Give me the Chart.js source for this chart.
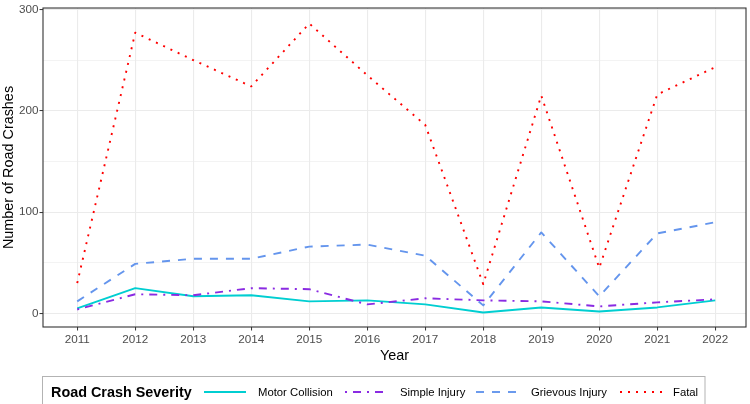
<!DOCTYPE html>
<html>
<head>
<meta charset="utf-8">
<script src="https://cdn.jsdelivr.net/npm/chart.js@4.4.1/dist/chart.umd.min.js"></script>
<style>
  html, body { margin: 0; padding: 0; background: #ffffff; }
  #c { display: block; }
</style>
</head>
<body>
<canvas id="c" width="750" height="404" style="width:750px;height:404px"></canvas>
<script>
// ---- data ----
const years = [2011, 2012, 2013, 2014, 2015, 2016, 2017, 2018, 2019, 2020, 2021, 2022];
const motorCollision = [5, 25, 17, 18, 12, 13, 9, 1, 6, 2, 6, 13];
const simpleInjury   = [4, 19, 18, 25, 24, 9, 15, 13, 12, 7, 11, 14];
const grievousInjury = [12, 49, 54, 54, 66, 68, 57, 8, 80, 17, 79, 90];
const fatal          = [30, 277, 250, 224, 286, 235, 186, 29, 215, 45, 216, 243];
const yTicks = [0, 50, 100, 150, 200, 250, 300];
const seriesLabels = ['Motor Collision', 'Simple Injury', 'Grievous Injury', 'Fatal'];
const legendTitle = 'Road Crash Severity';
const xTitle = 'Year';
const yTitle = 'Number of Road Crashes';

// ---- styles / layout ----
const FONT = '"Liberation Sans", Arial, Helvetica, sans-serif';
const colors = ['#00CED1', '#8A2BE2', '#6495ED', '#FF0000'];
const dashes = [[], [2, 6, 8, 6], [8, 8], [2, 6]];
const LW = 1.9;
const legendKeyX = [204, 345, 476, 620];
const legendTextX = [258, 400, 531, 673];

const seriesValues = [motorCollision, simpleInjury, grievousInjury, fatal];

const datasets = seriesValues.map((vals, i) => ({
  label: seriesLabels[i],
  data: years.map((yr, j) => ({ x: yr, y: vals[j] })),
  borderColor: colors[i],
  backgroundColor: colors[i],
  borderWidth: LW,
  borderDash: dashes[i],
  borderCapStyle: 'butt',
  borderJoinStyle: 'round',
  pointRadius: 0,
  pointHoverRadius: 0,
  tension: 0,
  fill: false,
  order: seriesValues.length - i
}));

const borderPlugin = {
  id: 'panelBorder',
  afterDatasetsDraw(chart) {
    const a = chart.chartArea;
    const ctx = chart.ctx;
    ctx.save();
    ctx.strokeStyle = '#333333';
    ctx.lineWidth = 1.1;
    ctx.strokeRect(a.left, a.top, a.right - a.left, a.bottom - a.top);
    ctx.restore();
  }
};

const legendPlugin = {
  id: 'ggLegend',
  afterDraw(chart) {
    const ctx = chart.ctx;
    ctx.save();
    ctx.strokeStyle = '#B3B3B3';
    ctx.lineWidth = 1;
    ctx.strokeRect(42.5, 376.5, 662.5, 40);
    ctx.fillStyle = '#000000';
    ctx.textBaseline = 'middle';
    ctx.textAlign = 'left';
    ctx.font = 'bold 14.4px ' + FONT;
    ctx.fillText(legendTitle, 51, 393);
    ctx.font = '11.3px ' + FONT;
    seriesLabels.forEach((lab, i) => {
      const x = legendKeyX[i];
      ctx.beginPath();
      ctx.setLineDash(dashes[i]);
      ctx.lineCap = 'butt';
      ctx.strokeStyle = colors[i];
      ctx.lineWidth = LW;
      ctx.moveTo(x, 392);
      ctx.lineTo(x + 42, 392);
      ctx.stroke();
      ctx.setLineDash([]);
      ctx.fillStyle = '#000000';
      ctx.fillText(lab, legendTextX[i], 393);
    });
    ctx.restore();
  }
};

new Chart(document.getElementById('c'), {
  type: 'line',
  data: { datasets },
  options: {
    responsive: false,
    animation: false,
    devicePixelRatio: 1,
    events: [],
    layout: { padding: { left: 0, right: 4, top: 2, bottom: 39 } },
    plugins: { legend: { display: false }, tooltip: { enabled: false } },
    scales: {
      x: {
        type: 'linear',
        min: 2010.41,
        max: 2022.53,
        afterBuildTicks(scale) { scale.ticks = years.map(v => ({ value: v })); },
        afterFit(scale) { scale.height = 38; },
        ticks: {
          callback: v => String(v),
          color: '#4D4D4D',
          font: { family: FONT, size: 11.7 },
          padding: 2.5,
          maxRotation: 0,
          autoSkip: false
        },
        grid: {
          color: '#EBEBEB',
          lineWidth: 1.1,
          tickColor: '#333333',
          tickLength: 3.5,
          tickWidth: 1
        },
        border: { display: false },
        title: {
          display: true,
          text: xTitle,
          color: '#000000',
          font: { family: FONT, size: 14.4 },
          padding: 0
        }
      },
      y: {
        type: 'linear',
        min: -13.3,
        max: 301.3,
        afterBuildTicks(scale) { scale.ticks = yTicks.map(v => ({ value: v })); },
        afterFit(scale) { scale.width = 43; },
        ticks: {
          callback: v => (v % 100 === 0 ? String(v) : ''),
          color: '#4D4D4D',
          font: { family: FONT, size: 11.7 },
          padding: 1
        },
        grid: {
          color: '#EBEBEB',
          lineWidth: ctx => (ctx.tick && ctx.tick.value % 100 === 0 ? 1.1 : 0.6),
          tickColor: ctx => (ctx.tick && ctx.tick.value % 100 === 0 ? '#333333' : 'rgba(0,0,0,0)'),
          tickLength: 3.5,
          tickWidth: 1
        },
        border: { display: false },
        title: {
          display: true,
          text: yTitle,
          color: '#000000',
          font: { family: FONT, size: 14.4 },
          padding: 0
        }
      }
    }
  },
  plugins: [borderPlugin, legendPlugin]
});
</script>
</body>
</html>
